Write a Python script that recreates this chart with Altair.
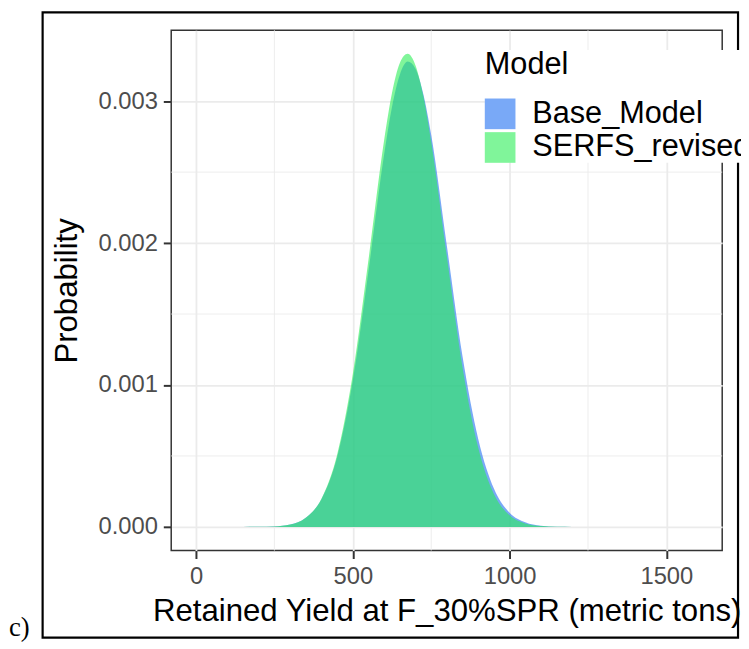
import altair as alt
import pandas as pd

# Retained yield (metric tons) grid at which the densities were read
yield_vals = [150, 200, 250, 300, 350, 400, 450, 500, 550, 600, 625, 650, 675,
              700, 725, 750, 800, 850, 900, 950, 1000, 1050, 1100, 1150, 1200]

base_model = [0.0, 0.0000005, 0.000003, 0.0000165, 0.0000645, 0.000195, 0.000491,
              0.001031, 0.001803, 0.002626, 0.00296, 0.003187, 0.003279,
              0.003228, 0.003049, 0.002764, 0.00198, 0.00120, 0.00062, 0.00027,
              0.0001, 0.000033, 0.000008, 0.000001, 0.0]

serfs_revised = [0.0, 0.0000004, 0.0000028, 0.000016, 0.0000646, 0.000199, 0.000509,
                 0.001076, 0.001882, 0.002726, 0.003057, 0.003269, 0.003334,
                 0.003252, 0.003036, 0.002714, 0.001905, 0.001124, 0.000557, 0.000232,
                 0.0000814, 0.000024, 0.0000055, 0.000001, 0.0]

models = ["Base_Model", "SERFS_revised"]
model_colors = ["#2070F2", "#2BEE57"]

x_ticks = [0, 500, 1000, 1500]
y_ticks = [0.0, 0.001, 0.002, 0.003]
x_minor = [250, 750, 1250]
y_minor = [0.0005, 0.0015, 0.0025]

n = len(yield_vals)
df = pd.DataFrame({
    "yield": yield_vals * 2,
    "prob": base_model + serfs_revised,
    "Model": [models[0]] * n + [models[1]] * n,
})
df_xminor = pd.DataFrame({"v": x_minor})
df_yminor = pd.DataFrame({"v": y_minor})
df_one = pd.DataFrame({"a": [0]})

FONT = "Liberation Sans"

x_scale = alt.Scale(domain=[-79, 1678], nice=False, zero=False)
y_scale = alt.Scale(domain=[-0.000167, 0.0035], nice=False, zero=False)

x_enc = alt.X("yield:Q", scale=x_scale,
              axis=alt.Axis(values=x_ticks, title="Retained Yield at F_30%SPR (metric tons)",
                            format="d", titlePadding=8, titleFontSize=31.5))
y_enc = alt.Y("prob:Q", scale=y_scale, stack=None,
              axis=alt.Axis(values=y_ticks, format=".3f", title="Probability",
                            titlePadding=15, titleFontSize=31.5))

color_enc = alt.Color(
    "Model:N",
    scale=alt.Scale(domain=models, range=model_colors),
    legend=alt.Legend(
        orient="none", legendX=317, legendY=20, title="Model",
        titleFontSize=31, titleFontWeight="normal", titleColor="black", titleFont=FONT,
        labelFontSize=31, labelColor="black", labelFont=FONT,
        symbolType="square", symbolSize=961, symbolOpacity=0.6,
        symbolStrokeWidth=0, rowPadding=2, titlePadding=18, labelOffset=17,
        fillColor="white", padding=0, labelLimit=400,
    ),
)

minor_x = alt.Chart(df_xminor).mark_rule(color="#EBEBEB", strokeWidth=0.9).encode(
    x=alt.X("v:Q", scale=x_scale))
minor_y = alt.Chart(df_yminor).mark_rule(color="#EBEBEB", strokeWidth=0.9).encode(
    y=alt.Y("v:Q", scale=y_scale))

blue = alt.Chart(df).transform_filter(alt.datum.Model == models[0]).mark_area(
    opacity=0.6, interpolate="monotone").encode(x=x_enc, y=y_enc, color=color_enc)
green = alt.Chart(df).transform_filter(alt.datum.Model == models[1]).mark_area(
    opacity=0.6, interpolate="monotone").encode(x=x_enc, y=y_enc, color=color_enc)

box = alt.Chart(df_one).mark_rect(fill=None, stroke="black", strokeWidth=2.2).encode(
    x=alt.value(-130), x2=alt.value(573), y=alt.value(-18), y2=alt.value(614))
label_c = alt.Chart(df_one).mark_text(
    font="Liberation Serif", fontSize=27, align="left", baseline="alphabetic",
    color="black").encode(x=alt.value(-164), y=alt.value(612), text=alt.value("c)"))

chart = alt.layer(minor_x, minor_y, blue, green, box, label_c).properties(
    width=557, height=526,
    autosize=alt.AutoSizeParams(type="none"),
    padding={"left": 165, "top": 19, "right": 19, "bottom": 96},
).configure(font=FONT).configure_view(
    stroke="#333333", strokeWidth=1.5
).configure_axis(
    grid=True, gridColor="#EBEBEB", gridWidth=1.8, domain=False,
    tickColor="#333333", tickWidth=2, tickSize=8,
    labelFont=FONT, labelFontSize=24, labelColor="#4D4D4D", labelPadding=6,
    titleFont=FONT, titleFontSize=31.5, titleFontWeight="normal", titleColor="black",
)

chart.save("out.html", embed_options={"renderer": "svg", "actions": False})
